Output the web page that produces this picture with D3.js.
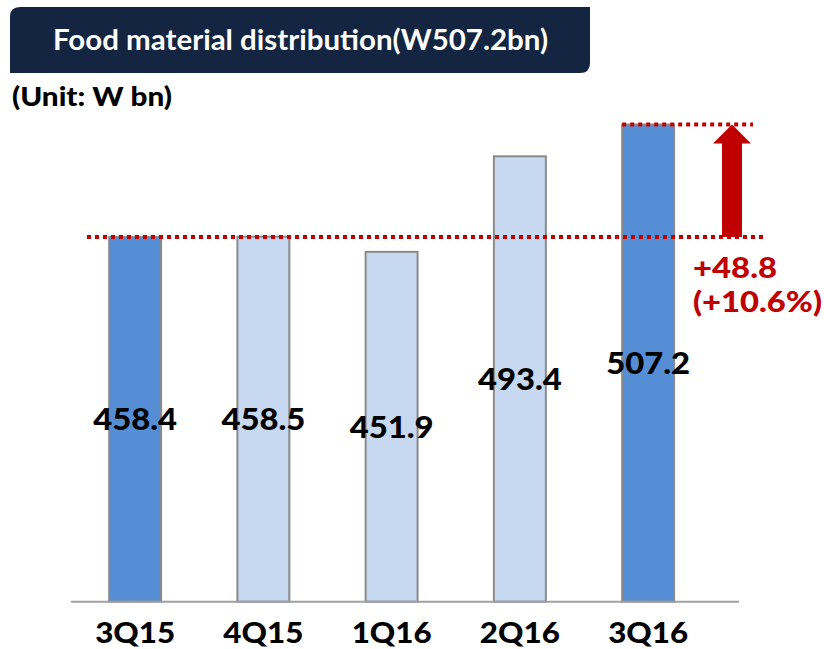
<!DOCTYPE html>
<html><head><meta charset="utf-8">
<script src="https://cdn.jsdelivr.net/npm/d3@7/dist/d3.min.js"></script>
<style>body{margin:0;background:#fff}svg{display:block}</style>
</head><body>
<script>
const categories = ["3Q15","4Q15","1Q16","2Q16","3Q16"];
const values = [458.4, 458.5, 451.9, 493.4, 507.2];
const valueLabels = ["458.4","458.5","451.9","493.4","507.2"];
const highlighted = [true,false,false,false,true];
const titleText = "Food material distribution(W507.2bn)";
const unitText = "(Unit: W bn)";
const changeLabels = ["+48.8","(+10.6%)"];

const W = 824, H = 649;
const svg = d3.select("body").append("svg").attr("width", W).attr("height", H);
const font = "Lato, 'DejaVu Sans', sans-serif";

// title box: rounded top-left and bottom-right
const bx0 = 10, by0 = 7, bx1 = 590, by1 = 73, r = 10;
svg.append("path")
  .attr("d", `M${bx0},${by0+r} Q${bx0},${by0} ${bx0+r},${by0} L${bx1},${by0} L${bx1},${by1-r} Q${bx1},${by1} ${bx1-r},${by1} L${bx0},${by1} Z`)
  .attr("fill", "#132540");
svg.append("text").attr("x", 53).attr("y", 50)
  .attr("font-family", font).attr("font-weight", 700).attr("font-size", 29)
  .attr("fill", "#fff").attr("textLength", 495).attr("lengthAdjust", "spacingAndGlyphs")
  .text(titleText);
svg.append("text").attr("x", 12).attr("y", 106)
  .attr("font-family", font).attr("font-weight", 900).attr("font-size", 26)
  .attr("fill", "#000").attr("textLength", 160).attr("lengthAdjust", "spacingAndGlyphs")
  .text(unitText);

const x = d3.scaleBand().domain(categories).range([71, 712.25]).paddingInner(0.595).paddingOuter(0.2975);
const y = d3.scaleLinear().domain([300, 520]).range([601.7, 601.7 - 220 * 2.303]);

const g = svg.append("g");
g.selectAll("rect.bar").data(values).join("rect")
  .attr("class", "bar")
  .attr("x", (d, i) => x(categories[i]))
  .attr("y", d => y(d))
  .attr("width", x.bandwidth())
  .attr("height", d => y(300) - y(d))
  .attr("fill", (d, i) => highlighted[i] ? "#558ED5" : "#C6D9F1")
  .attr("stroke", "#8A8A8A").attr("stroke-width", 2);

// x axis
const axis = d3.axisBottom(x).tickSize(0).tickPadding(0);
const ax = svg.append("g").attr("transform", `translate(0,${y(300)})`).call(axis);
ax.select(".domain").remove();
ax.selectAll("text")
  .attr("font-family", font).attr("font-weight", 900).attr("font-size", 29)
  .attr("fill", "#000").attr("dy", 0).attr("y", 41)
  .attr("textLength", 80).attr("lengthAdjust", "spacingAndGlyphs");
svg.append("line").attr("x1", 71).attr("x2", 739).attr("y1", y(300)).attr("y2", y(300))
  .attr("stroke", "#A0A0A0").attr("stroke-width", 2);

// value labels centered in bars
g.selectAll("text.val").data(values).join("text")
  .attr("class", "val")
  .attr("x", (d, i) => x(categories[i]) + x.bandwidth() / 2)
  .attr("y", d => (y(d) + y(300)) / 2 + 11)
  .attr("text-anchor", "middle")
  .attr("font-family", font).attr("font-weight", 900).attr("font-size", 31)
  .attr("fill", "#000").attr("textLength", 84).attr("lengthAdjust", "spacingAndGlyphs")
  .text((d, i) => valueLabels[i]);

// dotted lines
const red = "#C00000";
svg.append("line").attr("x1", 87).attr("x2", 763).attr("y1", y(values[0])).attr("y2", y(values[0]))
  .attr("stroke", red).attr("stroke-width", 4).attr("stroke-dasharray", "4,4");
svg.append("line").attr("x1", x(categories[4])).attr("x2", 753).attr("y1", y(values[4])).attr("y2", y(values[4]))
  .attr("stroke", red).attr("stroke-width", 4).attr("stroke-dasharray", "4,4");

// arrow
const ac = 732, yTop = y(values[4]), yBot = y(values[0]);
svg.append("path")
  .attr("d", `M${ac-10},${yBot} L${ac-10},${yTop+19} L${ac-19},${yTop+19} L${ac},${yTop} L${ac+19},${yTop+19} L${ac+10},${yTop+19} L${ac+10},${yBot} Z`)
  .attr("fill", red);

svg.append("text").attr("x", 693).attr("y", 278)
  .attr("font-family", font).attr("font-weight", 900).attr("font-size", 29)
  .attr("fill", red).attr("textLength", 84).attr("lengthAdjust", "spacingAndGlyphs").text(changeLabels[0]);
svg.append("text").attr("x", 693).attr("y", 312)
  .attr("font-family", font).attr("font-weight", 900).attr("font-size", 29)
  .attr("fill", red).attr("textLength", 129).attr("lengthAdjust", "spacingAndGlyphs").text(changeLabels[1]);
</script>
</body></html>
